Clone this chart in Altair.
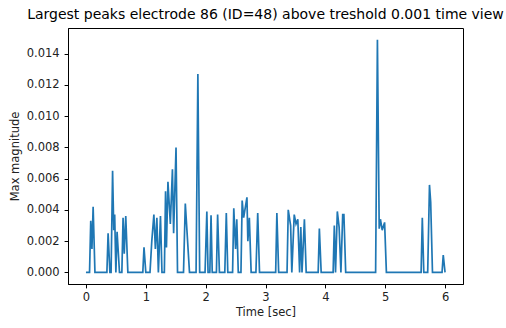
import altair as alt
import pandas as pd

time_sec = [
    0.00, 0.06, 0.08, 0.10, 0.12, 0.15, 0.35, 0.37, 0.40, 0.42, 0.445, 0.465, 0.48, 0.50,
    0.52, 0.56, 0.60, 0.62, 0.64, 0.665, 0.70, 0.95, 0.97, 1.00, 1.07, 1.10, 1.135, 1.16,
    1.185, 1.21, 1.245, 1.27, 1.31, 1.33, 1.345, 1.37, 1.41, 1.445, 1.465, 1.505, 1.53,
    1.63, 1.66, 1.73, 1.84, 1.87, 1.90, 1.99, 2.02, 2.04, 2.07, 2.09, 2.11, 2.18, 2.20,
    2.23, 2.32, 2.345, 2.37, 2.45, 2.47, 2.50, 2.52, 2.545, 2.59, 2.61, 2.635, 2.66, 2.69,
    2.705, 2.73, 2.76, 2.84, 2.87, 2.90, 3.17, 3.19, 3.22, 3.36, 3.38, 3.42, 3.44, 3.48,
    3.51, 3.54, 3.57, 3.59, 3.61, 3.65, 3.68, 3.88, 3.90, 3.93, 4.13, 4.15, 4.17, 4.20,
    4.23, 4.26, 4.29, 4.31, 4.34, 4.84, 4.87, 4.90, 4.92, 4.95, 4.99, 5.02, 5.60, 5.62,
    5.645, 5.71, 5.74, 5.76, 5.79, 5.95, 5.97, 6.00,
]
max_magnitude = [
    0.0, 0.0, 0.0033, 0.0015, 0.0042, 0.0, 0.0, 0.0025, 0.0, 0.0, 0.0065, 0.0027, 0.0037, 0.0,
    0.0026, 0.0, 0.0, 0.0035, 0.0012, 0.0036, 0.0, 0.0, 0.0016, 0.0, 0.0, 0.0020, 0.0037, 0.0015,
    0.0035, 0.0, 0.0036, 0.0, 0.0, 0.0052, 0.0016, 0.0058, 0.0031, 0.0066, 0.0025, 0.0080, 0.0,
    0.0, 0.0044, 0.0, 0.0, 0.0127, 0.0, 0.0, 0.0039, 0.0, 0.0, 0.00365, 0.0, 0.0, 0.0037,
    0.0, 0.0, 0.0038, 0.0, 0.0, 0.0041, 0.0015, 0.0034, 0.0, 0.0, 0.0046, 0.0035, 0.0041, 0.0048,
    0.0020, 0.0035, 0.0, 0.0, 0.0038, 0.0, 0.0, 0.0038, 0.0, 0.0, 0.0040, 0.0030, 0.0, 0.0037,
    0.0031, 0.0034, 0.0, 0.0029, 0.0, 0.0034, 0.0, 0.0, 0.0028, 0.0, 0.0, 0.0030, 0.0, 0.0039,
    0.0029, 0.0, 0.0037, 0.0037, 0.0, 0.0, 0.0149, 0.0028, 0.0034, 0.0027, 0.0032, 0.0, 0.0, 0.0035,
    0.0, 0.0, 0.0056, 0.0045, 0.0, 0.0, 0.0011, 0.0,
]
x_ticks = [0, 1, 2, 3, 4, 5, 6]
y_ticks = [0.0, 0.002, 0.004, 0.006, 0.008, 0.010, 0.012, 0.014]

df = pd.DataFrame({"t": time_sec, "m": max_magnitude})

font = "DejaVu Sans"

chart = (
    alt.Chart(df)
    .mark_line(color="#1f77b4", strokeWidth=1.7, interpolate="linear")
    .encode(
        x=alt.X(
            "t:Q",
            scale=alt.Scale(domain=[-0.3, 6.3], nice=False, zero=False),
            axis=alt.Axis(values=x_ticks, format="d", title="Time [sec]", grid=False),
        ),
        y=alt.Y(
            "m:Q",
            scale=alt.Scale(domain=[-0.000745, 0.015645], nice=False, zero=False),
            axis=alt.Axis(values=y_ticks, format=".3f", title="Max magnitude", grid=False),
        ),
    )
    .properties(
        width=395,
        height=256,
        title=alt.TitleParams(
            "Largest peaks electrode 86 (ID=48) above treshold 0.001 time view",
            font=font, fontSize=14, fontWeight="normal", color="black", anchor="middle", offset=6,
        ),
        autosize=alt.AutoSizeParams(type="none"),
        padding={"left": 68, "top": 28, "right": 43, "bottom": 44},
    )
    .configure_view(stroke="black", strokeWidth=1)
    .configure_axis(
        labelFont=font, labelFontSize=11.5, labelColor="#222222",
        titleFont=font, titleFontSize=11.5, titleColor="#222222", titleFontWeight="normal",
        tickColor="black", tickSize=3.9, domainColor="black",
    )
    .configure_axisX(titlePadding=3, labelPadding=4)
    .configure_axisY(titlePadding=6, labelPadding=5)
)

chart.save("out.html", embed_options={"renderer": "svg", "actions": False})
